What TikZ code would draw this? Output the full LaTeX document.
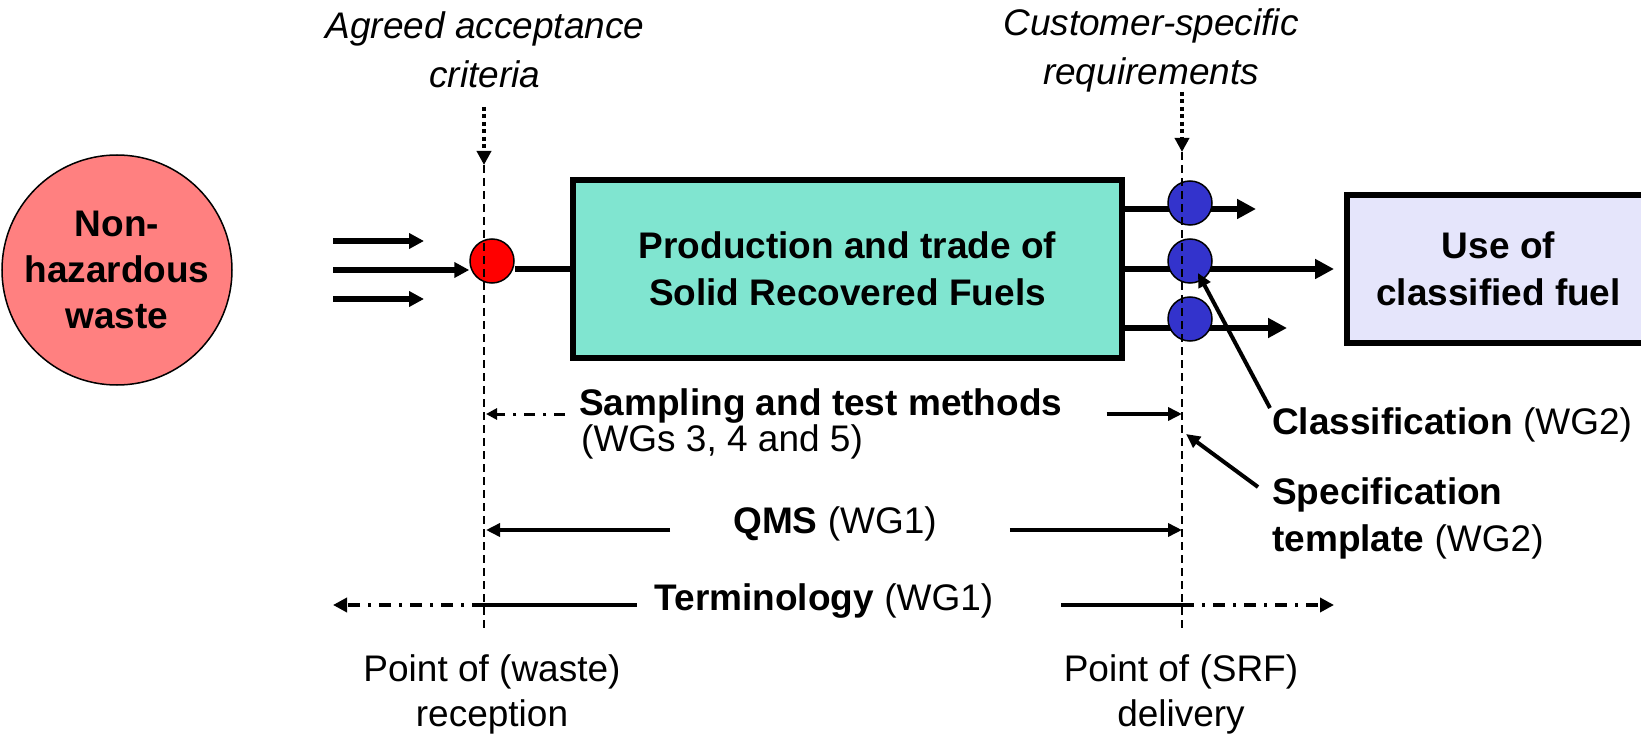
\documentclass[tikz,border=0pt]{standalone}
\usepackage{fontspec}
\setmainfont{Liberation Sans}
\usetikzlibrary{positioning, arrows.meta, calc}

\definecolor{wastered}{RGB}{255,128,128}
\definecolor{srfgreen}{RGB}{128,229,208}
\definecolor{dotblue}{RGB}{51,51,204}
\definecolor{uselilac}{RGB}{229,229,251}

\begin{document}
\begin{tikzpicture}[x=1pt, y=-1pt,
    txt/.style={font=\fontsize{37}{47}\selectfont, inner sep=0pt, align=center},
    note/.style={txt, font=\fontsize{37}{49}\selectfont\itshape},
    box/.style={draw, line width=6pt, fill=#1, txt,
                font=\fontsize{37}{47}\selectfont\bfseries},
    dot/.style={circle, draw, line width=1.5pt, fill=#1, minimum size=44pt,
                inner sep=0pt},
    flow/.style={line width=6pt, -{Triangle[length=19pt, width=19pt]}},
    feed/.style={line width=5.5pt, -{Triangle[length=15pt, width=15pt]}},
    link/.style={line width=6pt},
    arrow/.style={line width=4pt, -{Triangle[length=14pt, width=13pt]}},
    rule/.style={line width=4pt},
    cue/.style={line width=4.5pt, dash pattern=on 4pt off 3.5pt,
                -{Triangle[length=14pt, width=14pt]}},
    vline/.style={line width=1.5pt, dash pattern=on 8pt off 5pt},
    dotdash/.style={line width=4pt, dash pattern=on 12pt off 8pt on 3pt off 8pt},
    dashdot/.style={line width=3pt, dash pattern=on 11pt off 8pt on 3pt off 8pt}
]
\useasboundingbox (0,0) rectangle (1641,735);

% ---- Input side ----
\node[circle, draw, line width=1.5pt, fill=wastered, minimum size=230pt, txt,
      font=\fontsize{37}{46}\selectfont\bfseries] (waste) at (117,270)
      {Non-\\hazardous\\waste};
\coordinate (in1)  at (333,241);
\coordinate (in1e) at (424,241);
\coordinate (in2)  at (333,270);
\coordinate (in3)  at (333,299);
\coordinate (in3e) at (424,299);
\node[dot=red] (recv) at (492,261) {};
\draw[feed] (in1) -- (in1e);
\draw[feed] (in2) -- (recv.west |- in2);
\draw[feed] (in3) -- (in3e);

% ---- Production and trade ----
\node[box=srfgreen, minimum width=549pt, minimum height=178pt] (prod)
      at (847.5,269) {Production and trade of\\Solid Recovered Fuels};
\draw[link] (recv.east |- prod.west) -- (prod.west);

% output streams
\coordinate (out1) at (1256,209);
\coordinate (out2) at (1334,269);
\coordinate (out3) at (1287,328);
\draw[flow] (prod.east |- out1) -- (out1);
\draw[flow] (prod.east |- out2) -- (out2);
\draw[flow] (prod.east |- out3) -- (out3);
\node[dot=dotblue] (cl1) at (1190,203) {};
\node[dot=dotblue] (cl2) at (1190,261) {};
\node[dot=dotblue] (cl3) at (1190,319) {};

\node[box=uselilac, minimum width=303pt, minimum height=148pt] (use)
      at (1498.5,269) {Use of\\classified fuel};

% ---- Reception and delivery points ----
\coordinate (rtop) at (484,165);
\coordinate (rbot) at (484,628);
\coordinate (dtop) at (1182,152);
\coordinate (dbot) at (1182,628);
\draw[vline] (rtop) -- (rbot);
\draw[vline] (dtop) -- (dbot);

\node[note] (crit) at (485,50) {Agreed acceptance\\criteria};
\node[note] (cust) at (1151,50) {Customer-specific\\requirements};
\draw[cue] ($(rtop)+(0,-58)$) -- (rtop);
\draw[cue] ($(dtop)+(0,-60)$) -- (dtop);

\node[txt, font=\fontsize{37}{45}\selectfont] (recvpt) at (492,694)
      {Point of (waste)\\reception};
\node[txt, font=\fontsize{37}{45}\selectfont] (delpt) at (1181,694)
      {Point of (SRF)\\delivery};

% ---- Standards ----
\node[txt, anchor=base west, font=\fontsize{37}{47}\selectfont\bfseries] (samp)
      at (579,415) {Sampling and test methods};
\node[txt, anchor=base west] (sampwg) at ($(samp.base west)+(2,36)$)
      {(WGs 3, 4 and 5)};
\draw[dashdot, -{Triangle[length=11pt, width=11pt]}]
      ($(samp.base west)+(-14,-1)$) -- ($(rtop |- samp.base)+(2,-1)$);
\draw[arrow] ($(samp.base east)+(44,-1)$) -- ($(dtop |- samp.base)+(0,-1)$);

\node[txt, anchor=base] (qms) at (835,533) {\textbf{QMS} (WG1)};
\draw[arrow] ($(qms.base west)+(-63,-3)$) -- ($(rtop |- qms.base)+(2,-3)$);
\draw[arrow] ($(qms.base east)+(73,-3)$) -- ($(dtop |- qms.base)+(0,-3)$);

\node[txt, anchor=base] (term) at (824,610) {\textbf{Terminology} (WG1)};
\coordinate (tl) at ($(rtop |- term.base)+(0,-5)$);
\coordinate (tr) at ($(dtop |- term.base)+(0,-5)$);
\draw[rule] ($(term.base west)+(-18,-5)$) -- (tl);
\draw[dotdash, -{Triangle[length=14pt, width=14pt]}] (tl) -- (tl -| in2);
\draw[rule] ($(term.base east)+(68,-5)$) -- (tr);
\draw[dotdash, -{Triangle[length=14pt, width=14pt]}] (tr) -- (tr -| out2);

% ---- Classification and specification ----
\node[txt, anchor=base west] (clsf) at (1272,434)
      {\textbf{Classification} (WG2)};
\node[txt, anchor=north west, align=left] (spec) at (1272,477)
      {\textbf{Specification}\\\textbf{template} (WG2)};
\coordinate (spectip) at (1186,434);
\draw[arrow] ($(clsf.base west)+(-2,-26)$) -- ($(cl2)+(8,12)$);
\draw[arrow] ($(spec.north west)+(-14,10)$) -- (spectip);

\end{tikzpicture}
\end{document}
